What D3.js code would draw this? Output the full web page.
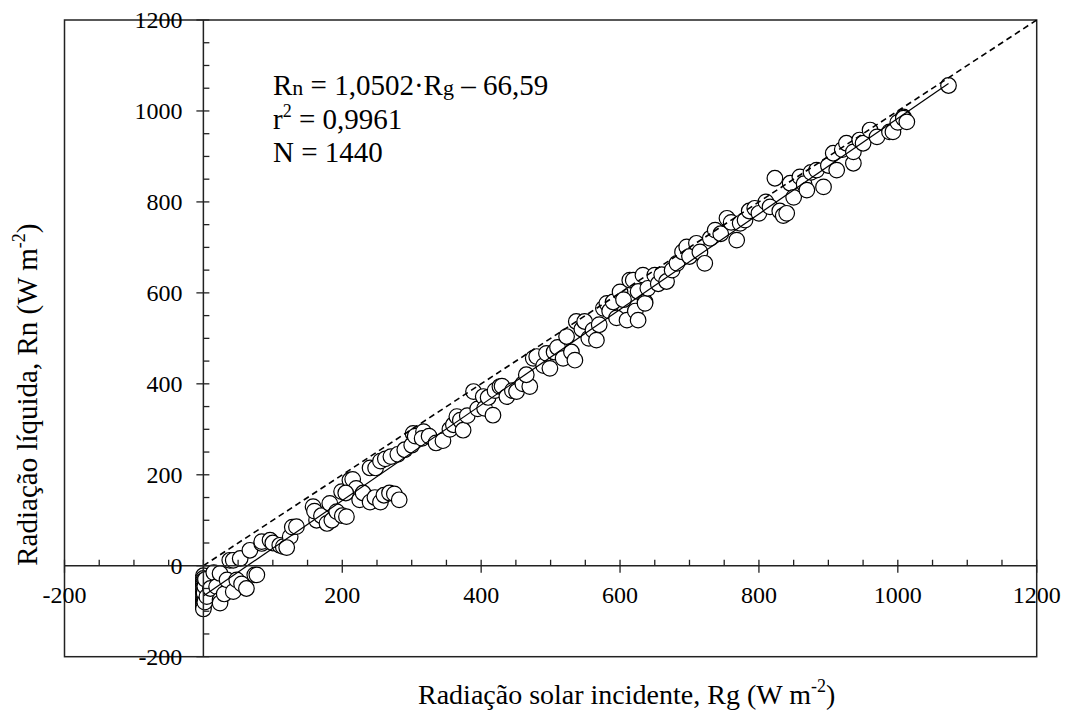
<!DOCTYPE html>
<html>
<head>
<meta charset="utf-8">
<script src="https://cdn.jsdelivr.net/npm/d3@7"></script>
<style>
  html, body { margin: 0; padding: 0; background: #fff; }
  svg { display: block; }
  svg text { font-family: 'Liberation Serif', 'DejaVu Serif', serif; }
</style>
</head>
<body>
<svg id="chart" width="1065" height="713" font-family="Liberation Serif, DejaVu Serif, serif"></svg>
<script>
// ---- data ----
const rg = [
  0,0,0,0,0,0,0,0,0,0,0,0,0,0,0,0,0,1,2,2,3,
  5,10,15,19,24,24,24,30,34,38,43,43,48,53,55,62,67,74,77,84,84,96,100,110,115,125,128,134,120,
  158,163,160,170,178,182,185,192,199,200,206,211,215,220,205,225,230,240,247,255,260,268,275,282,240,248,255,262,270,280,290,300,
  302,305,317,315,325,335,345,355,360,365,370,374,380,389,395,403,405,410,417,420,427,430,437,445,451,460,470,465,
  475,480,490,494,499,505,510,518,523,530,535,537,545,549,555,561,566,570,576,581,585,590,595,600,605,610,614,619,622,626,626,633,636,636,640,
  650,655,660,667,675,682,690,696,700,710,715,722,730,737,745,754,760,768,773,780,786,794,
  800,810,816,823,830,835,840,845,850,859,865,869,875,883,893,900,907,912,920,926,936,936,945,950,960,970,988,993,1000,1008,1008,1013,1073
];
const rn = [
  -22,-28,-33,-38,-42,-47,-52,-57,-62,-66,-70,-74,-78,-82,-86,-90,-95,-60,-45,-80,-30,
  -68,-50,-15,-46,-17,-75,-82,-62,-31,12,-57,12,-31,16,-40,-50,34,-20,-20,49,53,56,50,45,42,64,85,86,40,
  130,100,120,110,93,137,100,119,163,110,108,188,190,170,160,145,160,140,150,140,155,160,158,145,215,215,230,235,240,245,255,265,
  291,285,295,280,285,270,275,300,310,328,320,298,330,383,345,372,346,370,331,385,394,395,372,385,383,400,394,420,
  456,460,440,467,434,470,480,456,504,470,452,537,520,537,500,518,496,530,566,577,560,580,545,602,585,540,628,628,560,603,540,639,580,577,610,
  639,620,640,625,650,665,690,701,680,709,690,665,720,738,730,764,755,716,753,760,780,786,
  775,800,789,852,780,770,775,841,810,855,840,826,865,870,833,880,907,870,915,929,885,910,936,929,958,943,954,954,975,987,984,976,1056
];
const xTickLabels = [-200, 200, 400, 600, 800, 1000, 1200];
const yTickLabels = [-200, 0, 200, 400, 600, 800, 1000, 1200];
const slope = 1.0502, intercept = -66.59;
const fitRange = [0, 1073];
const oneToOne = [0, 1200];
const eqLines = ["Rn = 1,0502·Rg – 66,59", "r² = 0,9961", "N = 1440"];

// ---- layout ----
const svg = d3.select("#chart");
const x = d3.scaleLinear().domain([-200, 1200]).range([64.5, 1036.7]);
const y = d3.scaleLinear().domain([-200, 1200]).range([656.7, 20]);
const x0 = x(0), y0 = y(0);
const tickFont = 24;

// frame
svg.append("rect")
  .attr("x", x(-200)).attr("y", y(1200))
  .attr("width", x(1200) - x(-200)).attr("height", y(-200) - y(1200))
  .attr("fill", "none").attr("stroke", "#222").attr("stroke-width", 1.5);

// points
const pts = rg.map((v, i) => ({ g: v, n: rn[i] }));
svg.append("g").selectAll("circle").data(pts).join("circle")
  .attr("cx", d => x(d.g)).attr("cy", d => y(d.n)).attr("r", 7.8)
  .attr("fill", "#fff").attr("stroke", "#000").attr("stroke-width", 1.2);

// 1:1 dashed line
svg.append("line")
  .attr("x1", x(oneToOne[0])).attr("y1", y(oneToOne[0]))
  .attr("x2", x(oneToOne[1])).attr("y2", y(oneToOne[1]))
  .attr("stroke", "#000").attr("stroke-width", 1.6).attr("stroke-dasharray", "6,4");

// regression line
svg.append("line")
  .attr("x1", x(fitRange[0])).attr("y1", y(slope * fitRange[0] + intercept))
  .attr("x2", x(fitRange[1])).attr("y2", y(slope * fitRange[1] + intercept))
  .attr("stroke", "#000").attr("stroke-width", 1.2);

// x axis (through y = 0)
const xAxisG = svg.append("g");
xAxisG.append("line").attr("x1", x(-200)).attr("x2", x(1200)).attr("y1", y0).attr("y2", y0)
  .attr("stroke", "#222").attr("stroke-width", 1.5);
const xMinor = d3.range(-200, 1201, 50).filter(v => v % 200 !== 0);
xAxisG.selectAll(".xmin").data(xMinor).join("line")
  .attr("x1", d => x(d)).attr("x2", d => x(d)).attr("y1", y0 - 6).attr("y2", y0)
  .attr("stroke", "#222").attr("stroke-width", 1.3);
const xMajor = d3.range(-200, 1201, 200);
xAxisG.selectAll(".xmaj").data(xMajor).join("line")
  .attr("x1", d => x(d)).attr("x2", d => x(d)).attr("y1", y0 - 6).attr("y2", y0 + 7)
  .attr("stroke", "#222").attr("stroke-width", 1.3);
xAxisG.selectAll("text").data(xTickLabels).join("text")
  .attr("x", d => x(d)).attr("y", y0 + 37)
  .attr("text-anchor", "middle").attr("font-size", tickFont).attr("fill", "#000")
  .text(d => d);

// y axis (through x = 0)
const yAxisG = svg.append("g");
yAxisG.append("line").attr("x1", x0).attr("x2", x0).attr("y1", y(-200)).attr("y2", y(1200))
  .attr("stroke", "#222").attr("stroke-width", 1.5);
const yMinor = d3.range(-200, 1201, 50).filter(v => v % 200 !== 0);
yAxisG.selectAll(".ymin").data(yMinor).join("line")
  .attr("x1", x0).attr("x2", x0 + 6).attr("y1", d => y(d)).attr("y2", d => y(d))
  .attr("stroke", "#222").attr("stroke-width", 1.3);
const yMajor = d3.range(-200, 1201, 200);
yAxisG.selectAll(".ymaj").data(yMajor).join("line")
  .attr("x1", x0 - 7).attr("x2", x0 + 6).attr("y1", d => y(d)).attr("y2", d => y(d))
  .attr("stroke", "#222").attr("stroke-width", 1.3);
yAxisG.selectAll("text").data(yTickLabels).join("text")
  .attr("x", x0 - 21).attr("y", d => y(d) + 8)
  .attr("text-anchor", "end").attr("font-size", tickFont).attr("fill", "#000")
  .text(d => d);

// equation annotation
const ann = svg.append("g").attr("font-size", 29).attr("fill", "#000");
const l1 = ann.append("text").attr("x", 273).attr("y", 95);
l1.append("tspan").text("R");
l1.append("tspan").attr("font-size", 22).text("n");
l1.append("tspan").text(" = 1,0502·R");
l1.append("tspan").attr("font-size", 22).text("g");
l1.append("tspan").text(" – 66,59");
const l2 = ann.append("text").attr("x", 273).attr("y", 129);
l2.append("tspan").text("r");
l2.append("tspan").attr("font-size", 18).attr("dy", -12).text("2");
l2.append("tspan").attr("dy", 12).text(" = 0,9961");
ann.append("text").attr("x", 273).attr("y", 162).text(eqLines[2]);

// axis titles
const xt = svg.append("text").attr("x", 418).attr("y", 704)
  .attr("text-anchor", "start").attr("font-size", 28).attr("fill", "#000");
xt.append("tspan").text("Radiação solar incidente, Rg (W m");
xt.append("tspan").attr("font-size", 18).attr("dy", -12).text("-2");
xt.append("tspan").attr("dy", 12).text(")");

const yt = svg.append("text")
  .attr("transform", `translate(37, ${y(0)}) rotate(-90)`)
  .attr("text-anchor", "start").attr("font-size", 29).attr("fill", "#000");
yt.append("tspan").text("Radiação líquida, Rn (W m");
yt.append("tspan").attr("font-size", 18).attr("dy", -12).text("-2");
yt.append("tspan").attr("dy", 12).text(")");
</script>
</body>
</html>
